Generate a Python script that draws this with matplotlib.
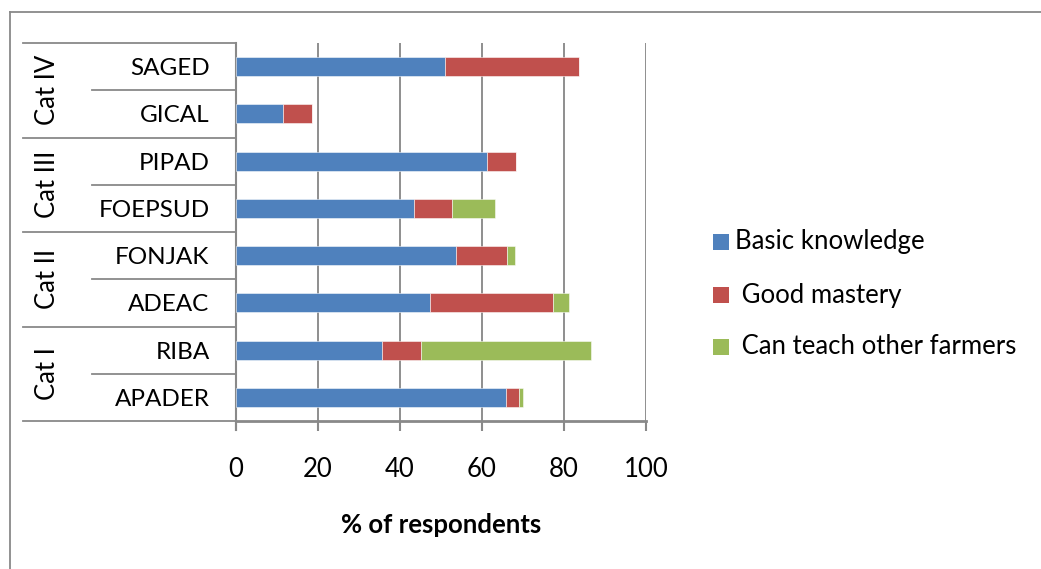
import matplotlib
matplotlib.use("Agg")
import matplotlib.pyplot as plt
from matplotlib.lines import Line2D
from matplotlib.patches import Rectangle
import numpy as np

# Organisations, bottom to top, with their category groups
organisations = ["APADER", "RIBA", "ADEAC", "FONJAK", "FOEPSUD", "PIPAD", "GICAL", "SAGED"]
categories = ["Cat I", "Cat II", "Cat III", "Cat IV"]

# Share of respondents (%) per level of skill
basic_knowledge = [65.9, 35.7, 47.2, 53.7, 43.5, 61.3, 11.4, 51.0]
good_mastery = [3.1, 9.5, 30.1, 12.4, 9.2, 7.0, 7.1, 32.7]
can_teach = [0.9, 41.5, 3.8, 1.9, 10.4, 0.0, 0.0, 0.0]

series_names = ["Basic knowledge", " Good mastery", " Can teach other farmers"]
colors = ["#4F81BD", "#C0504D", "#9BBB59"]
x_ticks = [0, 20, 40, 60, 80, 100]

plt.rcParams["font.family"] = ["Lato", "DejaVu Sans"]
GREY = "#898989"
FS = 18.5

W, H = 1041, 569
fig = plt.figure(figsize=(W / 100, H / 100), dpi=100)
ax = fig.add_axes([236 / W, 1 - 421 / H, 410 / W, (421 - 43) / H])

y = np.arange(len(organisations))
left = np.zeros(len(organisations))
for vals, col, name in zip([basic_knowledge, good_mastery, can_teach], colors, series_names):
    vals = np.array(vals)
    ax.barh(y, vals, left=left, height=0.4, color=col, edgecolor=(1, 1, 1, 0.6),
            linewidth=0.6, label=name, zorder=3)
    left = left + vals

ax.set_xlim(0, 100)
ax.set_ylim(-0.5, len(organisations) - 0.5)
ax.set_xticks(x_ticks)
ax.set_xticklabels([str(t) for t in x_ticks], fontsize=FS)
ax.tick_params(axis="x", length=7, width=1.5, color=GREY, pad=19)
ax.set_yticks(y)
ax.set_yticklabels(organisations, fontsize=17.5)
ax.tick_params(axis="y", length=0, pad=19)
ax.xaxis.grid(True, color="#868686", linewidth=1.3, zorder=0)
ax.set_axisbelow(True)
for s in ["top", "right"]:
    ax.spines[s].set_visible(False)
ax.spines["left"].set_color(GREY)
ax.spines["left"].set_linewidth(1.5)
ax.spines["bottom"].set_color(GREY)
ax.spines["bottom"].set_linewidth(2)
ax.set_xlabel("% of respondents", fontsize=FS, fontweight="bold", labelpad=22)

# Multi-level category axis: separators and group labels
x_full = (23 - 236) / 410
x_sub = (92 - 236) / 410
n = len(organisations)
for i in range(n + 1):
    yf = i / n
    x0 = x_full if i % 2 == 0 else x_sub
    ax.add_line(Line2D([x0, 0], [yf, yf], transform=ax.transAxes, color=GREY,
                       linewidth=1.3, clip_on=False))
ax.add_line(Line2D([0, 0], [0, -9 / 378], transform=ax.transAxes, color=GREY,
                   linewidth=1.5, clip_on=False))
for k, cat in enumerate(categories):
    ax.text((47 - 236) / 410, (2 * k + 1) / n, cat, transform=ax.transAxes,
            rotation=90, ha="center", va="center", fontsize=FS)

# Legend
leg_y = [242, 295, 347]
for name, col, ly in zip(series_names, colors, leg_y):
    fig.add_artist(Rectangle((713 / W, 1 - (ly + 8) / H), 16 / W, 16 / H,
                             transform=fig.transFigure, facecolor=col, edgecolor="none"))
    fig.text(735 / W, 1 - ly / H, name, ha="left", va="center", fontsize=FS)

# Outer frame
fig.add_artist(Line2D([9.5 / W, 9.5 / W], [0, 1 - 12 / H], transform=fig.transFigure,
                      color=GREY, linewidth=1.3))
fig.add_artist(Line2D([9.5 / W, 1], [1 - 12 / H, 1 - 12 / H], transform=fig.transFigure,
                      color=GREY, linewidth=1.3))

fig.savefig("out.png", dpi=100)
